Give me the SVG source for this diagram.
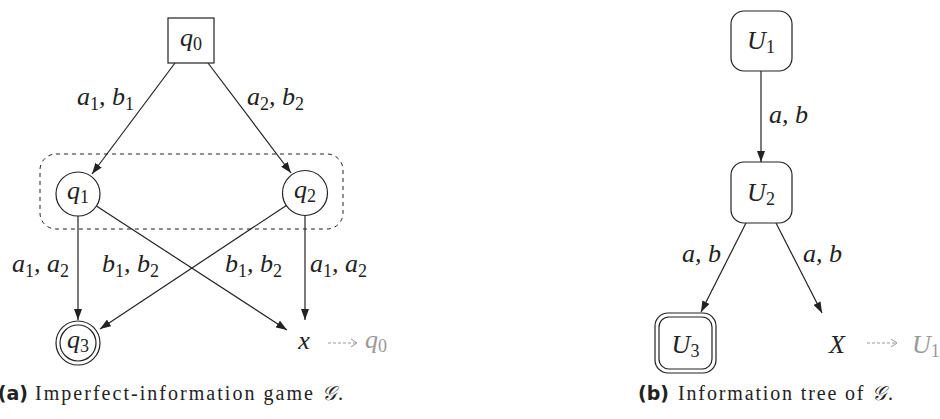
<svg xmlns="http://www.w3.org/2000/svg" width="940" height="419" viewBox="0 0 940 419">
<defs>
<marker id="ah" markerUnits="userSpaceOnUse" markerWidth="11" markerHeight="8" refX="11" refY="4" orient="auto">
<path d="M0,0 L11,4 L0,8 z" fill="#222"/>
</marker>
<marker id="ag" markerUnits="userSpaceOnUse" markerWidth="8" markerHeight="10" refX="7" refY="5" orient="auto">
<path d="M1,1 L7,5 L1,9" fill="none" stroke="#999" stroke-width="1"/>
</marker>
</defs>
<g id="connectors">
<g fill="none" stroke="#222" stroke-width="1.2" marker-end="url(#ah)">
<line x1="175" y1="63" x2="92" y2="174"/>
<line x1="208" y1="63" x2="291" y2="173"/>
<line x1="78" y1="216" x2="78" y2="320"/>
<line x1="305" y1="215" x2="305" y2="320"/>
<line x1="96.4" y1="206" x2="287" y2="330"/>
<line x1="286.7" y1="205.2" x2="100" y2="329"/>
<line x1="761" y1="71" x2="761" y2="162"/>
<line x1="746" y1="223" x2="701" y2="312"/>
<line x1="776" y1="223" x2="822" y2="313"/>
</g>
<g fill="none" stroke="#999" stroke-width="1" stroke-dasharray="3 2" marker-end="url(#ag)">
<line x1="328" y1="343" x2="357" y2="343"/>
<line x1="867" y1="343" x2="897" y2="343"/>
</g>
<text font-family="Liberation Serif" font-style="italic" font-size="26" fill="#222" x="77" y="105">a<tspan font-style="normal" font-size="18" dy="5">1</tspan><tspan dy="-5">, b</tspan><tspan font-style="normal" font-size="18" dy="5">1</tspan></text>
<text font-family="Liberation Serif" font-style="italic" font-size="26" fill="#222" x="247" y="105">a<tspan font-style="normal" font-size="18" dy="5">2</tspan><tspan dy="-5">, b</tspan><tspan font-style="normal" font-size="18" dy="5">2</tspan></text>
<text font-family="Liberation Serif" font-style="italic" font-size="26" fill="#222" x="12" y="272">a<tspan font-style="normal" font-size="18" dy="5">1</tspan><tspan dy="-5">, a</tspan><tspan font-style="normal" font-size="18" dy="5">2</tspan></text>
<text font-family="Liberation Serif" font-style="italic" font-size="26" fill="#222" x="102" y="272">b<tspan font-style="normal" font-size="18" dy="5">1</tspan><tspan dy="-5">, b</tspan><tspan font-style="normal" font-size="18" dy="5">2</tspan></text>
<text font-family="Liberation Serif" font-style="italic" font-size="26" fill="#222" x="225" y="272">b<tspan font-style="normal" font-size="18" dy="5">1</tspan><tspan dy="-5">, b</tspan><tspan font-style="normal" font-size="18" dy="5">2</tspan></text>
<text font-family="Liberation Serif" font-style="italic" font-size="26" fill="#222" x="310" y="272">a<tspan font-style="normal" font-size="18" dy="5">1</tspan><tspan dy="-5">, a</tspan><tspan font-style="normal" font-size="18" dy="5">2</tspan></text>
<text font-family="Liberation Serif" font-style="italic" font-size="26" fill="#222" x="769" y="123">a, b</text>
<text font-family="Liberation Serif" font-style="italic" font-size="26" fill="#222" x="682" y="262">a, b</text>
<text font-family="Liberation Serif" font-style="italic" font-size="26" fill="#222" x="803" y="262">a, b</text>
</g>
<g id="infoset">
<rect x="40" y="154" width="303" height="75" rx="16" fill="none" stroke="#222" stroke-width="1" stroke-dasharray="4 4"/>
</g>
<g id="q0">
<rect x="168" y="18" width="46" height="45" fill="#fff" stroke="#222" stroke-width="1.2"/>
<text font-family="Liberation Serif" font-style="italic" font-size="26" fill="#222" x="191" y="46" text-anchor="middle">q<tspan font-style="normal" font-size="18" dy="4">0</tspan></text>
</g>
<g id="q1">
<circle cx="78" cy="194" r="22" fill="#fff" stroke="#222" stroke-width="1.2"/>
<text font-family="Liberation Serif" font-style="italic" font-size="26" fill="#222" x="78" y="199" text-anchor="middle">q<tspan font-style="normal" font-size="18" dy="4">1</tspan></text>
</g>
<g id="q2">
<circle cx="305" cy="193" r="22.5" fill="#fff" stroke="#222" stroke-width="1.2"/>
<text font-family="Liberation Serif" font-style="italic" font-size="26" fill="#222" x="305" y="198" text-anchor="middle">q<tspan font-style="normal" font-size="18" dy="4">2</tspan></text>
</g>
<g id="q3">
<circle cx="78" cy="343" r="22" fill="#fff" stroke="#222" stroke-width="1.2"/>
<circle cx="78" cy="343" r="18" fill="#fff" stroke="#222" stroke-width="1.2"/>
<text font-family="Liberation Serif" font-style="italic" font-size="26" fill="#222" x="78" y="348" text-anchor="middle">q<tspan font-style="normal" font-size="18" dy="4">3</tspan></text>
</g>
<g id="x">
<text font-family="Liberation Serif" font-style="italic" font-size="26" fill="#222" x="304" y="349" text-anchor="middle">x</text>
</g>
<g id="q0ref">
<text font-family="Liberation Serif" font-style="italic" font-size="26" fill="#999" x="365" y="348">q<tspan font-style="normal" font-size="18" dy="4">0</tspan></text>
</g>
<g id="U1">
<rect x="731" y="11" width="61" height="60" rx="13" fill="#fff" stroke="#222" stroke-width="1.2"/>
<text font-family="Liberation Serif" font-style="italic" font-size="26" fill="#222" x="761" y="49" text-anchor="middle">U<tspan font-style="normal" font-size="18" dy="4">1</tspan></text>
</g>
<g id="U2">
<rect x="731" y="162" width="61" height="61" rx="13" fill="#fff" stroke="#222" stroke-width="1.2"/>
<text font-family="Liberation Serif" font-style="italic" font-size="26" fill="#222" x="761" y="201" text-anchor="middle">U<tspan font-style="normal" font-size="18" dy="4">2</tspan></text>
</g>
<g id="U3">
<rect x="655" y="313" width="61" height="60" rx="13" fill="#fff" stroke="#222" stroke-width="1.2"/>
<rect x="659" y="317" width="53" height="52" rx="10" fill="#fff" stroke="#222" stroke-width="1.2"/>
<text font-family="Liberation Serif" font-style="italic" font-size="26" fill="#222" x="685.5" y="353" text-anchor="middle">U<tspan font-style="normal" font-size="18" dy="4">3</tspan></text>
</g>
<g id="X">
<text font-family="Liberation Serif" font-style="italic" font-size="26" fill="#222" x="837" y="353" text-anchor="middle">X</text>
</g>
<g id="U1ref">
<text font-family="Liberation Serif" font-style="italic" font-size="26" fill="#999" x="912" y="353">U<tspan font-style="normal" font-size="18" dy="4">1</tspan></text>
</g>
<text font-family="DejaVu Sans" font-weight="bold" font-size="19" fill="#222" x="28" y="400" text-anchor="end">(a)</text>
<text font-family="Liberation Serif" font-size="20" fill="#222" x="35" y="400" textLength="308">Imperfect-information game <tspan font-style="italic">&#x1D4A2;</tspan>.</text>
<text font-family="DejaVu Sans" font-weight="bold" font-size="19" fill="#222" x="669" y="400" text-anchor="end">(b)</text>
<text font-family="Liberation Serif" font-size="20" fill="#222" x="678" y="400" textLength="215">Information tree of <tspan font-style="italic">&#x1D4A2;</tspan>.</text>
</svg>
